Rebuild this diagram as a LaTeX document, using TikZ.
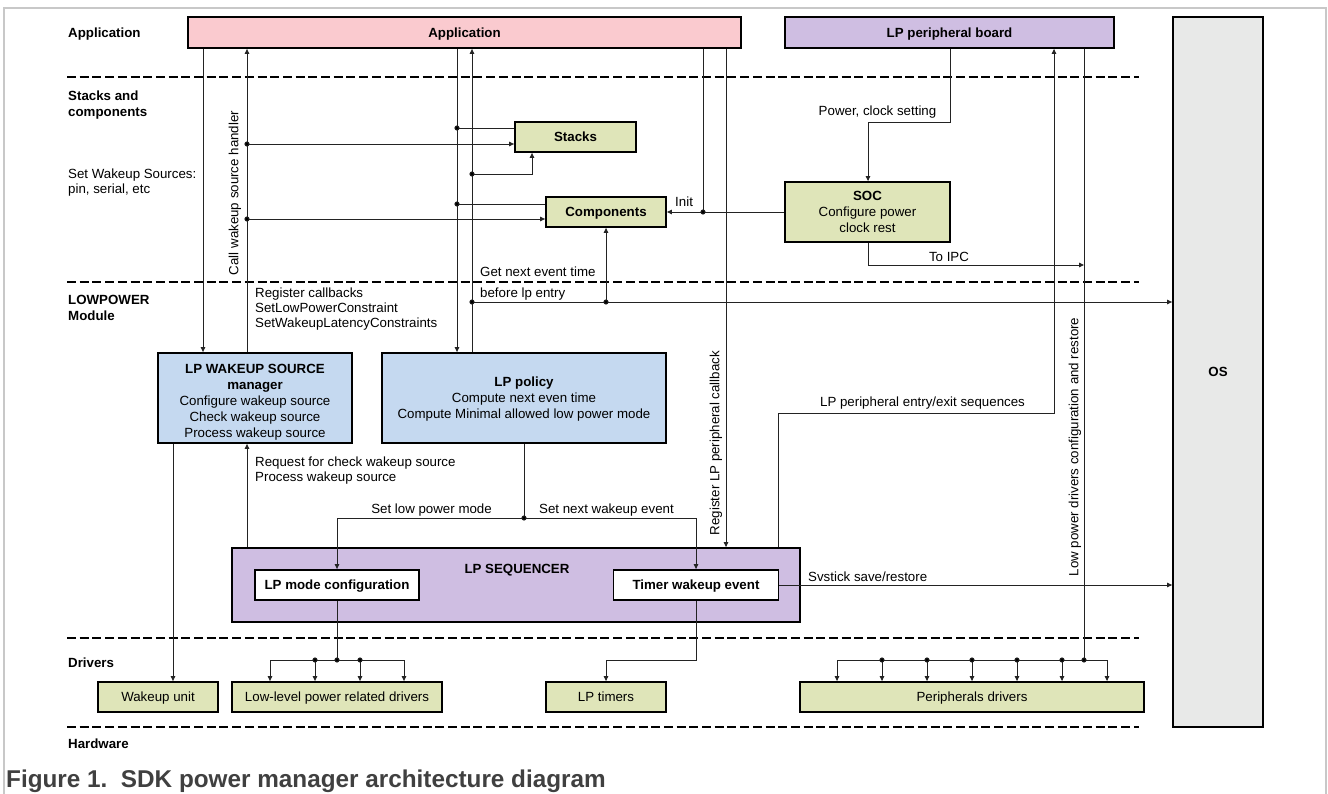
\documentclass[tikz,border=0pt]{standalone}
\usepackage{fontspec}
\setmainfont{Liberation Sans}
\usetikzlibrary{arrows.meta,calc}
\definecolor{pinkfill}{RGB}{250,202,207}
\definecolor{lavfill}{RGB}{207,190,226}
\definecolor{greenfill}{RGB}{223,229,185}
\definecolor{bluefill}{RGB}{197,217,240}
\definecolor{osfill}{RGB}{232,233,232}
\definecolor{framegray}{RGB}{200,200,200}
\definecolor{capgray}{RGB}{64,64,64}
\definecolor{wire}{RGB}{35,35,35}
\begin{document}
\begin{tikzpicture}[x=1pt,y=-1pt,
  every node/.style={font=\fontsize{13.3}{16}\selectfont, inner sep=0pt},
  bf/.style={font=\fontsize{13.3}{16}\selectfont\bfseries},
  box/.style={draw=black, line width=1.8pt, inner sep=0pt, align=center, text depth=0pt},
  wire/.style={draw=wire, line width=0.9pt},
  arr/.style={wire, -{Triangle[length=5pt,width=4.5pt]}},
  sepline/.style={draw=black, line width=2pt, dash pattern=on 9pt off 3.7pt},
  lbl/.style={anchor=mid west}]
\useasboundingbox (0,0) rectangle (1328,794);
% frame
\draw[framegray, line width=1.5pt] (4,794) -- (4,8) -- (1326,8) -- (1326,794);

% separators
\foreach \yy in {77,282,638,727} \draw[sepline] (67,\yy) -- (1139,\yy);

% layer labels
\node[bf, anchor=mid west] (lA) at (68,35) {Application};
\node[bf, anchor=mid west] (lS1) at (68,98) {Stacks and};
\node[bf, anchor=mid west] (lS2) at (68,114) {components};
\node[lbl] (lW1) at (68,176) {Set Wakeup Sources:};
\node[lbl] (lW2) at (68,191) {pin, serial, etc};
\node[bf, anchor=mid west] (lL1) at (68,302) {LOWPOWER};
\node[bf, anchor=mid west] (lL2) at (68,318) {Module};
\node[bf, anchor=mid west] (lD) at (68,665) {Drivers};
\node[bf, anchor=mid west] (lH) at (68,746) {Hardware};

% boxes
\node[box, bf, fill=pinkfill, minimum width=553pt, minimum height=31pt] (app) at (464.5,32.5) {Application};
\node[box, bf, fill=lavfill, minimum width=329pt, minimum height=31pt] (lpb) at (949.5,32.5) {LP peripheral board};
\node[box, bf, fill=osfill, minimum width=90pt, minimum height=710pt] (os) at (1218,372) {OS};
\node[box, bf, fill=greenfill, minimum width=121pt, minimum height=30pt] (stacks) at (575.5,137) {Stacks};
\node[box, bf, fill=greenfill, minimum width=120pt, minimum height=30pt] (comp) at (606,212) {Components};
\node[box, fill=greenfill, minimum width=165pt, minimum height=60pt] (soc) at (867.5,212) {\textbf{SOC}\\Configure power\\clock rest};
\node[box, fill=bluefill, minimum width=194pt, minimum height=90pt] (lpws) at (255,398) {};
\node[align=center, text depth=0pt] (lpwst) at (255,401) {\textbf{LP WAKEUP SOURCE}\\\textbf{manager}\\Configure wakeup source\\Check wakeup source\\Process wakeup source};
\node[box, fill=bluefill, minimum width=284pt, minimum height=90pt] (pol) at (524,398) {\textbf{LP policy}\\Compute next even time\\Compute Minimal allowed low power mode};
\node[box, fill=lavfill, minimum width=568pt, minimum height=74pt] (seq) at (516,585) {};
\node[bf] (seqt) at (517,570) {LP SEQUENCER};
\node[box, bf, fill=white, minimum width=164pt, minimum height=30pt] (lpmc) at (337,585) {LP mode configuration};
\node[box, bf, fill=white, minimum width=165pt, minimum height=30pt] (twe) at (696,585) {Timer wakeup event};
\node[box, fill=greenfill, minimum width=120pt, minimum height=30pt] (wu) at (158,697) {Wakeup unit};
\node[box, fill=greenfill, minimum width=210pt, minimum height=30pt] (lld) at (337,697) {Low-level power related drivers};
\node[box, fill=greenfill, minimum width=120pt, minimum height=30pt] (lpt) at (606,697) {LP timers};
\node[box, fill=greenfill, minimum width=344pt, minimum height=30pt] (pd) at (972,697) {Peripherals drivers};

% column / row coordinates
\coordinate (xA) at (203,0);
\coordinate (xB) at (247,0);
\coordinate (xC) at (457,0);
\coordinate (xD) at (472,0);
\coordinate (xE) at (532,0);
\coordinate (xF) at (606,0);
\coordinate (xG) at (703,0);
\coordinate (xH) at (726,0);
\coordinate (xI) at (778,0);
\coordinate (xJ) at (868,0);
\coordinate (xK) at (950,0);
\coordinate (xL) at (1054,0);
\coordinate (xM) at (1084,0);
\coordinate (xN) at (173,0);
\coordinate (xO) at (337,0);
\coordinate (xP) at (524,0);
\coordinate (r122) at (0,122);
\coordinate (r128) at (0,128);
\coordinate (r144) at (0,144);
\coordinate (r174) at (0,174);
\coordinate (r204) at (0,204);
\coordinate (r219) at (0,219);
\coordinate (r265) at (0,265);
\coordinate (r302) at (0,302);
\coordinate (r413) at (0,413);
\coordinate (r518) at (0,518);
\coordinate (r660) at (0,660);

% connectors top
\draw[arr] (app.south -| xA) -- (lpws.north -| xA);
\draw[arr] (lpws.north -| xB) -- (app.south -| xB);
\draw[arr] (app.south -| xC) -- (pol.north -| xC);
\draw[arr] (pol.north -| xD) -- (app.south -| xD);
\draw[arr] (xB |- r144) -- (stacks.west |- r144);
\draw[arr] (xB |- r219) -- (comp.west |- r219);
\draw[wire] (stacks.west |- r128) -- (xC |- r128);
\draw[wire] (comp.west |- r204) -- (xC |- r204);
\draw[arr] (xD |- r174) -| (stacks.south -| xE);
\draw[arr] (xD |- r302) -- (os.west |- r302);
\draw[arr] (xF |- r302) -- (comp.south -| xF);
\draw[wire] (app.south -| xG) -- (xG |- soc.west);
\draw[arr] (soc.west) -- (comp.east);
\draw[arr] (app.south -| xH) -- (seq.north -| xH);
\draw[arr] (lpb.south -| xK) |- (xJ |- r122) -- (soc.north -| xJ);
\draw[arr] (soc.south -| xJ) |- (xM |- r265);
\draw[arr] (seq.north -| xI) |- (xL |- r413) -- (lpb.south -| xL);
\draw[wire] (lpb.south -| xM) -- (xM |- r660);

% lower connectors
\draw[arr] (twe.east) -- (os.west |- twe.east);
\draw[arr] (lpws.south -| xN) -- (wu.north -| xN);
\draw[arr] (seq.north -| xB) -- (lpws.south -| xB);
\draw[wire] (pol.south -| xP) -- (xP |- r518);
\draw[arr] (xP |- r518) -| (lpmc.north);
\draw[arr] (xP |- r518) -| (twe.north);
\draw[wire] (lpmc.south) -- (xO |- r660);
\draw[arr] (twe.south) -- (twe.south |- r660) -| (lpt.north);

% buses
\draw[wire] (270,660) -- (404,660);
\foreach \bx in {270,315,360,404} {
  \coordinate (bb) at (\bx,660);
  \draw[arr] (bb) -- (bb |- lld.north);
}
\draw[wire] (837,660) -- (1107,660);
\foreach \bx in {837,882,927,972,1017,1062,1107} {
  \coordinate (bb) at (\bx,660);
  \draw[arr] (bb) -- (bb |- pd.north);
}

% dots
\foreach \p in {(xB |- r144),(xB |- r219),(xC |- r128),(xC |- r204),(xD |- r174),(xD |- r302),(xF |- r302),(xG |- soc.west),(xP |- r518),(xO |- r660),(315,660),(360,660),(xM |- r660),(882,660),(927,660),(972,660),(1017,660),(1062,660)}
  \fill[wire] \p circle (2.1pt);

% connector labels
\node[rotate=90] (tcall) at (235,193) {Call wakeup source handler};
\node[rotate=90] (treg) at (716,443) {Register LP peripheral callback};
\node[rotate=90] (tlow) at (1075,447) {Low power drivers configuration and restore};
\node[lbl] (tg1) at (480,274) {Get next event time};
\node[lbl] (tg2) at (480,295) {before lp entry};
\node[lbl] (tr1) at (255,295) {Register callbacks};
\node[lbl] (tr2) at (255,310) {SetLowPowerConstraint};
\node[lbl] (tr3) at (255,325) {SetWakeupLatencyConstraints};
\node[lbl] (tq1) at (255,464) {Request for check wakeup source};
\node[lbl] (tq2) at (255,479) {Process wakeup source};
\node[anchor=mid east] (tslp) at (492,511) {Set low power mode};
\node[lbl] (tsnw) at (539,511) {Set next wakeup event};
\node[lbl] (tinit) at (675,204) {Init};
\node[anchor=mid] (tpow) at (877.5,113) {Power, clock setting};
\node[anchor=mid] (tipc) at (949,259) {To IPC};
\node[anchor=mid] (tlpe) at (922.5,404) {LP peripheral entry/exit sequences};
\node[lbl] (tsys) at (808,579) {Svstick save/restore};

% caption
\node[anchor=base west, font=\fontsize{24.3}{28}\selectfont\bfseries, text=capgray] (cap) at (6,787) {Figure 1.\ \ SDK power manager architecture diagram};
\end{tikzpicture}
\end{document}
